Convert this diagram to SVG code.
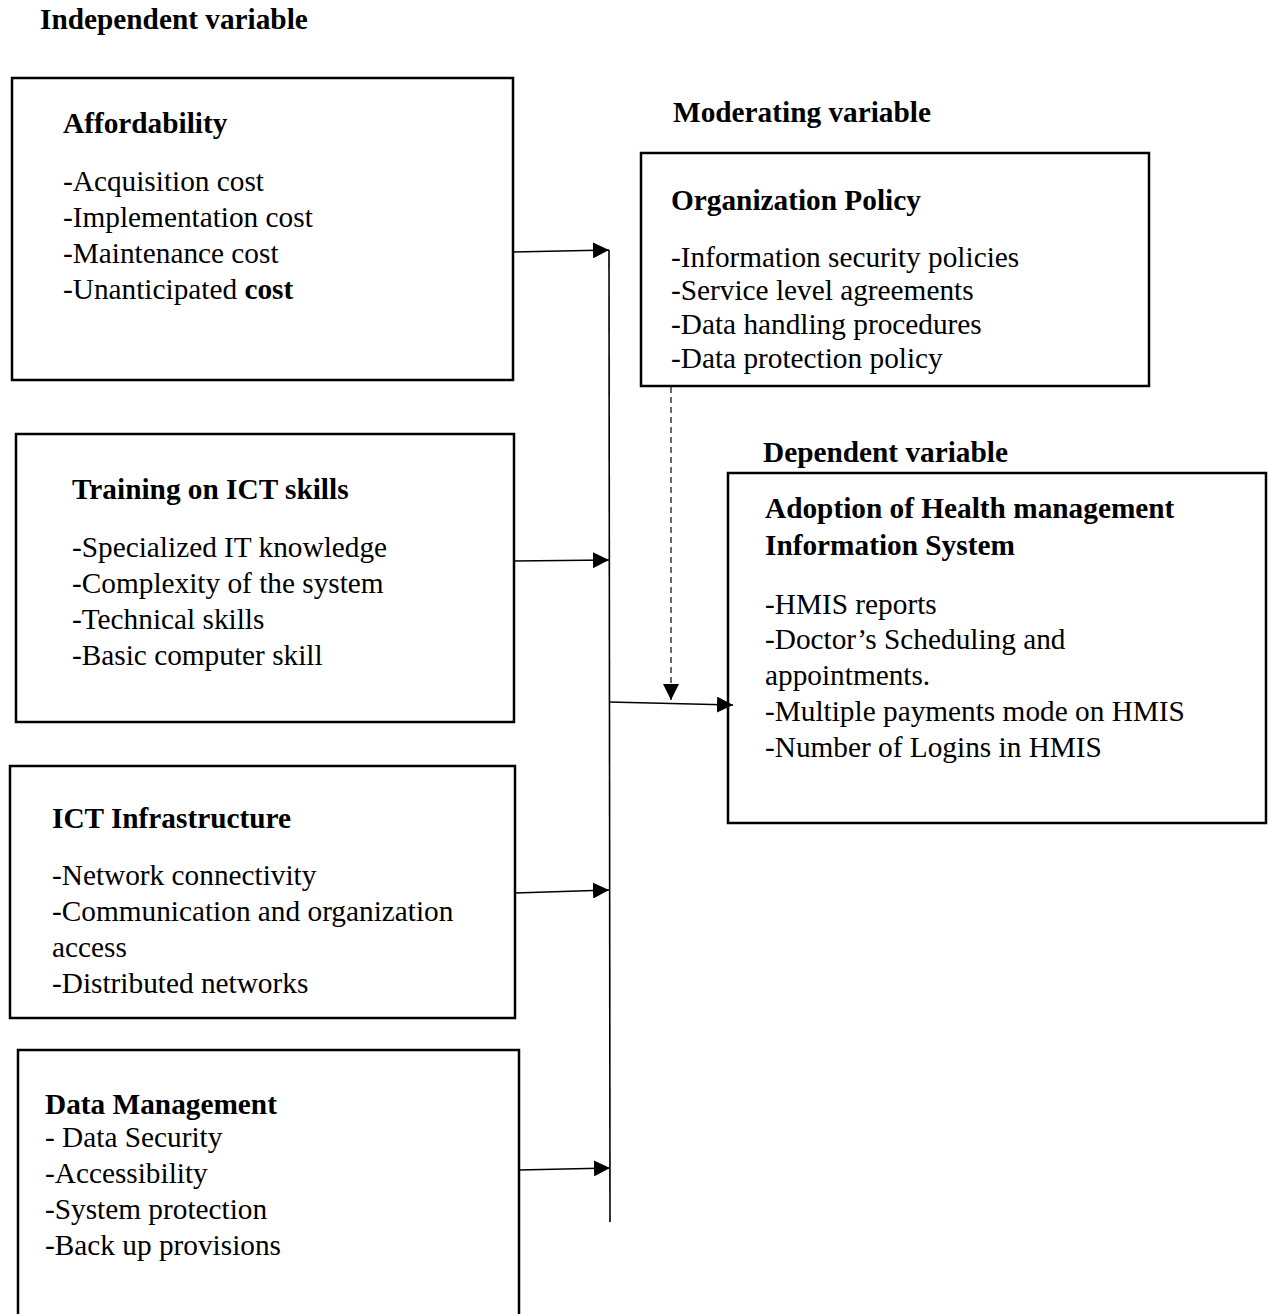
<svg xmlns="http://www.w3.org/2000/svg" width="1269" height="1314" viewBox="0 0 1269 1314">
<style>
text{font-family:"Liberation Serif","Times New Roman",serif;font-size:29.3px;fill:#000}
.b{font-weight:bold}
.box{fill:#fff;stroke:#000;stroke-width:2.5}
.ln{stroke:#000;stroke-width:1.6;fill:none}
.dash{stroke:#444;stroke-width:1.6;fill:none;stroke-dasharray:6,4}
</style>
<defs>
<marker id="ah" markerWidth="16" markerHeight="16" refX="16" refY="8" orient="auto" markerUnits="userSpaceOnUse">
<path d="M0,0 L16,8 L0,16 Z" fill="#000"/>
</marker>
</defs>
<rect width="1269" height="1314" fill="#fff"/>
<text class="b" x="40" y="29">Independent variable</text>
<text class="b" x="673" y="122">Moderating variable</text>
<text class="b" x="763" y="462">Dependent variable</text>

<g id="affordability">
<rect class="box" x="12" y="78" width="501" height="302"/>
<text class="b" x="63" y="133">Affordability</text>
<text x="63" y="191">-Acquisition cost</text>
<text x="63" y="227">-Implementation cost</text>
<text x="63" y="263">-Maintenance cost</text>
<text x="63" y="299">-Unanticipated <tspan class="b">cost</tspan></text>
</g>

<g id="training">
<rect class="box" x="16" y="434" width="498" height="288"/>
<text class="b" x="72" y="499">Training on ICT skills</text>
<text x="72" y="557">-Specialized IT knowledge</text>
<text x="72" y="593">-Complexity of the system</text>
<text x="72" y="629">-Technical skills</text>
<text x="72" y="665">-Basic computer skill</text>
</g>

<g id="ict">
<rect class="box" x="10" y="766" width="505" height="252"/>
<text class="b" x="52" y="828">ICT Infrastructure</text>
<text x="52" y="885">-Network connectivity</text>
<text x="52" y="921">-Communication and organization</text>
<text x="52" y="957">access</text>
<text x="52" y="993">-Distributed networks</text>
</g>

<g id="data">
<rect class="box" x="18" y="1050" width="501" height="280"/>
<text class="b" x="45" y="1114">Data Management</text>
<text x="45" y="1147">- Data Security</text>
<text x="45" y="1183">-Accessibility</text>
<text x="45" y="1219">-System protection</text>
<text x="45" y="1255">-Back up provisions</text>
</g>

<g id="policy">
<rect class="box" x="641" y="153" width="508" height="233"/>
<text class="b" x="671" y="210">Organization Policy</text>
<text x="671" y="267">-Information security policies</text>
<text x="671" y="300">-Service level agreements</text>
<text x="671" y="334">-Data handling procedures</text>
<text x="671" y="368">-Data protection policy</text>
</g>

<g id="adoption">
<rect class="box" x="728" y="473" width="538" height="350"/>
<text class="b" x="765" y="518">Adoption of Health management</text>
<text class="b" x="765" y="555">Information System</text>
<text x="765" y="614">-HMIS reports</text>
<text x="765" y="649">-Doctor’s Scheduling and</text>
<text x="765" y="685">appointments.</text>
<text x="765" y="721">-Multiple payments mode on HMIS</text>
<text x="765" y="757">-Number of Logins in HMIS</text>
</g>

<g id="connectors">
<line class="ln" x1="609" y1="250" x2="610" y2="1222"/>
<line class="ln" x1="513" y1="252" x2="609" y2="250" marker-end="url(#ah)"/>
<line class="ln" x1="514" y1="561" x2="609" y2="560" marker-end="url(#ah)"/>
<line class="ln" x1="515" y1="893" x2="609" y2="890" marker-end="url(#ah)"/>
<line class="ln" x1="519" y1="1170" x2="610" y2="1168" marker-end="url(#ah)"/>
<line class="ln" x1="609" y1="702" x2="733" y2="705" marker-end="url(#ah)"/>
<line class="dash" x1="671" y1="387" x2="671" y2="700" marker-end="url(#ah)"/>
</g>
</svg>
